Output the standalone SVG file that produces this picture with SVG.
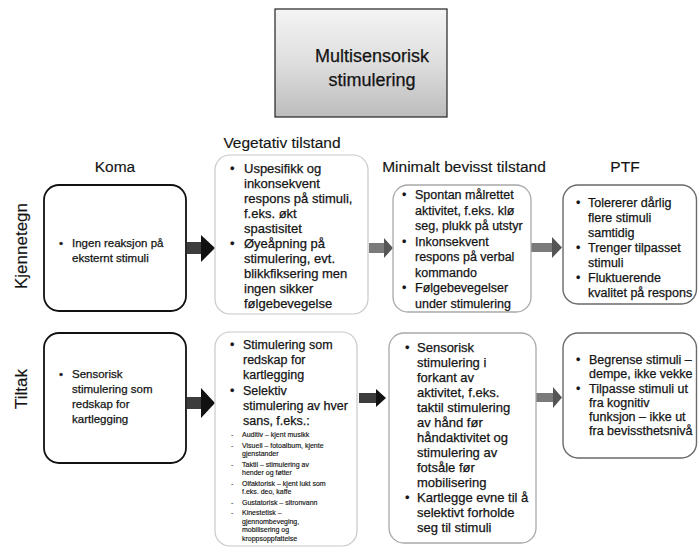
<svg xmlns="http://www.w3.org/2000/svg" width="698" height="549" viewBox="0 0 698 549">
  <defs>
    <linearGradient id="titleFill" x1="0" y1="0" x2="0" y2="1">
      <stop offset="0" stop-color="#f4f4f4"/>
      <stop offset="0.5" stop-color="#dedede"/>
      <stop offset="1" stop-color="#bcbcbc"/>
    </linearGradient>
  </defs>
  <style>
    text { font-family: "Liberation Sans", Arial, sans-serif; fill: #141414; stroke: #141414; stroke-width: 0.25px; }
    .title { font-size: 18px; text-anchor: middle; }
    .head { font-size: 15.5px; text-anchor: middle; stroke-width: 0.15px; }
    .side { font-size: 17px; text-anchor: middle; stroke-width: 0.15px; }
    .s115 { font-size: 11.5px; }
    .s125 { font-size: 12.5px; }
    .s13 { font-size: 13px; }
    .tiny { font-size: 7px; stroke-width: 0.15px; }
    .box { fill: #ffffff; }
    .koma { stroke: #111111; stroke-width: 1.8; }
    .veg { stroke: #c8c8c8; stroke-width: 1.2; }
    .mbt { stroke: #a8a8a8; stroke-width: 1.3; }
    .ptf { stroke: #6a6a6a; stroke-width: 1.4; }
    .shaftDark { fill: #3c3c3c; }
    .headDark { fill: #111111; }
    .shaftGray { fill: #7a7a7a; }
    .headGray { fill: #555555; }
  </style>

  <rect width="698" height="549" fill="#ffffff"/>

  <!-- title -->
  <g id="title">
    <rect x="275" y="9" width="172" height="108" fill="url(#titleFill)" stroke="#222222" stroke-width="1.2"/>
    <text class="title" x="372" y="62">Multisensorisk</text>
    <text class="title" x="372" y="86">stimulering</text>
  </g>

  <!-- column and row headings -->
  <g id="headings">
    <text class="head" x="282" y="148">Vegetativ tilstand</text>
    <text class="head" x="115" y="172">Koma</text>
    <text class="head" x="464" y="172">Minimalt bevisst tilstand</text>
    <text class="head" x="625" y="172">PTF</text>
    <text class="side" transform="translate(27,246) rotate(-90)">Kjennetegn</text>
    <text class="side" transform="translate(27,389) rotate(-90)">Tiltak</text>
  </g>

  <!-- connectors -->
  <g id="connectors">
    <rect class="shaftDark" x="187" y="242" width="15" height="12"/>
    <polygon class="headDark" points="201,235 215,248 201,262"/>
    <rect class="shaftGray" x="369" y="243" width="16" height="10"/>
    <polygon class="headGray" points="384,238 393,248 384,258"/>
    <rect class="shaftGray" x="531" y="243" width="22" height="9"/>
    <polygon class="headGray" points="552,237 562,247.5 552,258"/>

    <rect class="shaftDark" x="187" y="397" width="15" height="12"/>
    <polygon class="headDark" points="201,388 215,403 201,418"/>
    <rect class="shaftDark" x="359" y="393" width="18" height="10"/>
    <polygon class="headDark" points="376,389 386,398 376,407"/>
    <rect class="shaftGray" x="536" y="393" width="18" height="9"/>
    <polygon class="headGray" points="553,387 562,397.5 553,408"/>
  </g>

  <!-- row: Kjennetegn -->
  <g id="koma-kjennetegn">
    <rect class="box koma" x="44" y="185" width="142" height="126" rx="15"/>
    <text class="s115" x="59" y="247">•</text>
    <text class="s115" x="72" y="247">Ingen reaksjon på</text>
    <text class="s115" x="72" y="262">eksternt stimuli</text>
  </g>

  <g id="vegetativ-kjennetegn">
    <rect class="box veg" x="215" y="155" width="153" height="159" rx="15"/>
    <text class="s13" x="230" y="173">•</text>
    <text class="s13" x="244" y="173">Uspesifikk og</text>
    <text class="s13" x="244" y="188">inkonsekvent</text>
    <text class="s13" x="244" y="203">respons på stimuli,</text>
    <text class="s13" x="244" y="218">f.eks. økt</text>
    <text class="s13" x="244" y="233">spastisitet</text>
    <text class="s13" x="230" y="248">•</text>
    <text class="s13" x="244" y="248">Øyeåpning på</text>
    <text class="s13" x="244" y="263">stimulering, evt.</text>
    <text class="s13" x="244" y="278">blikkfiksering men</text>
    <text class="s13" x="244" y="293">ingen sikker</text>
    <text class="s13" x="244" y="308">følgebevegelse</text>
  </g>

  <g id="mbt-kjennetegn">
    <rect class="box mbt" x="393" y="185" width="138" height="127" rx="15"/>
    <text class="s125" x="402" y="199">•</text>
    <text class="s125" x="415" y="199">Spontan målrettet</text>
    <text class="s125" x="415" y="214.5">aktivitet, f.eks. klø</text>
    <text class="s125" x="415" y="230">seg, plukk på utstyr</text>
    <text class="s125" x="402" y="245.5">•</text>
    <text class="s125" x="415" y="245.5">Inkonsekvent</text>
    <text class="s125" x="415" y="261">respons på verbal</text>
    <text class="s125" x="415" y="276.5">kommando</text>
    <text class="s125" x="402" y="292">•</text>
    <text class="s125" x="415" y="292">Følgebevegelser</text>
    <text class="s125" x="415" y="307.5">under stimulering</text>
  </g>

  <g id="ptf-kjennetegn">
    <rect class="box ptf" x="563" y="185" width="133.5" height="119" rx="15"/>
    <text class="s125" x="576" y="207">•</text>
    <text class="s125" x="588" y="207">Tolererer dårlig</text>
    <text class="s125" x="588" y="222">flere stimuli</text>
    <text class="s125" x="588" y="237">samtidig</text>
    <text class="s125" x="576" y="252">•</text>
    <text class="s125" x="588" y="252">Trenger tilpasset</text>
    <text class="s125" x="588" y="267">stimuli</text>
    <text class="s125" x="576" y="282">•</text>
    <text class="s125" x="588" y="282">Fluktuerende</text>
    <text class="s125" x="588" y="297">kvalitet på respons</text>
  </g>

  <!-- row: Tiltak -->
  <g id="koma-tiltak">
    <rect class="box koma" x="44" y="333" width="142" height="130" rx="15"/>
    <text class="s115" x="59" y="378">•</text>
    <text class="s115" x="72" y="378">Sensorisk</text>
    <text class="s115" x="72" y="393">stimulering som</text>
    <text class="s115" x="72" y="408">redskap for</text>
    <text class="s115" x="72" y="423">kartlegging</text>
  </g>

  <g id="vegetativ-tiltak">
    <rect class="box veg" x="215" y="332" width="142" height="214" rx="15"/>
    <text class="s125" x="230" y="349">•</text>
    <text class="s125" x="243" y="349">Stimulering som</text>
    <text class="s125" x="243" y="364">redskap for</text>
    <text class="s125" x="243" y="379">kartlegging</text>
    <text class="s125" x="230" y="395">•</text>
    <text class="s125" x="243" y="395">Selektiv</text>
    <text class="s125" x="243" y="410">stimulering av hver</text>
    <text class="s125" x="243" y="425">sans, f.eks.:</text>
    <text class="tiny" x="231" y="437">-</text>
    <text class="tiny" x="242" y="437">Auditiv – kjent musikk</text>
    <text class="tiny" x="231" y="447.5">-</text>
    <text class="tiny" x="242" y="447.5">Visuell – fotoalbum, kjente</text>
    <text class="tiny" x="242" y="456">gjenstander</text>
    <text class="tiny" x="231" y="466.5">-</text>
    <text class="tiny" x="242" y="466.5">Taktil – stimulering av</text>
    <text class="tiny" x="242" y="475">hender og føtter</text>
    <text class="tiny" x="231" y="485.5">-</text>
    <text class="tiny" x="242" y="485.5">Olfaktorisk – kjent lukt som</text>
    <text class="tiny" x="242" y="494">f.eks. deo, kaffe</text>
    <text class="tiny" x="231" y="504.5">-</text>
    <text class="tiny" x="242" y="504.5">Gustatorisk – sitronvann</text>
    <text class="tiny" x="231" y="515">-</text>
    <text class="tiny" x="242" y="515">Kinestetisk –</text>
    <text class="tiny" x="242" y="523.5">gjennombeveging,</text>
    <text class="tiny" x="242" y="532">mobilisering og</text>
    <text class="tiny" x="242" y="540.5">kroppsoppfattelse</text>
  </g>

  <g id="mbt-tiltak">
    <rect class="box mbt" x="389" y="333" width="147" height="210" rx="15"/>
    <text class="s13" x="405" y="352">•</text>
    <text class="s13" x="417" y="352">Sensorisk</text>
    <text class="s13" x="417" y="367">stimulering i</text>
    <text class="s13" x="417" y="382">forkant av</text>
    <text class="s13" x="417" y="397">aktivitet, f.eks.</text>
    <text class="s13" x="417" y="412">taktil stimulering</text>
    <text class="s13" x="417" y="427">av hånd før</text>
    <text class="s13" x="417" y="442">håndaktivitet og</text>
    <text class="s13" x="417" y="457">stimulering av</text>
    <text class="s13" x="417" y="472">fotsåle før</text>
    <text class="s13" x="417" y="487">mobilisering</text>
    <text class="s13" x="405" y="502">•</text>
    <text class="s13" x="417" y="502">Kartlegge evne til å</text>
    <text class="s13" x="417" y="517">selektivt forholde</text>
    <text class="s13" x="417" y="532">seg til stimuli</text>
  </g>

  <g id="ptf-tiltak">
    <rect class="box ptf" x="563" y="333" width="133.5" height="125" rx="15"/>
    <text class="s125" x="576" y="364">•</text>
    <text class="s125" x="589" y="364">Begrense stimuli –</text>
    <text class="s125" x="589" y="378">dempe, ikke vekke</text>
    <text class="s125" x="576" y="392.5">•</text>
    <text class="s125" x="589" y="392.5">Tilpasse stimuli ut</text>
    <text class="s125" x="589" y="406.5">fra kognitiv</text>
    <text class="s125" x="589" y="420.5">funksjon – ikke ut</text>
    <text class="s125" x="589" y="434.5">fra bevissthetsnivå</text>
  </g>
</svg>
